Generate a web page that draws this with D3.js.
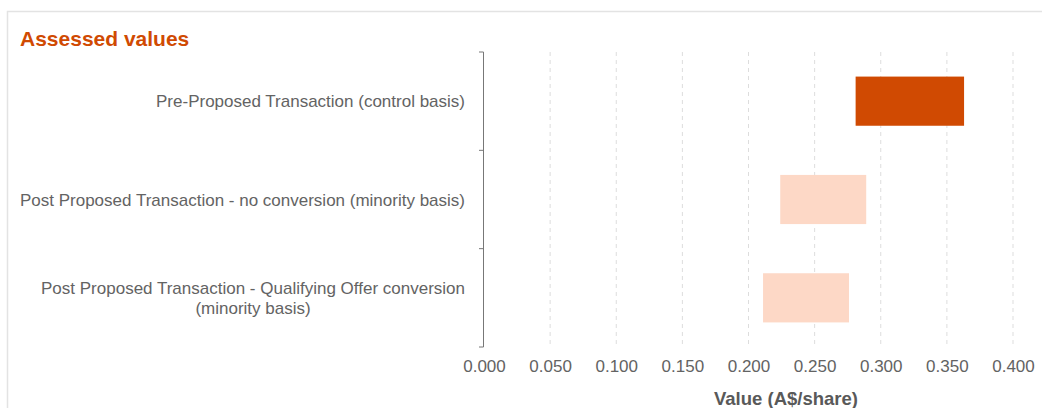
<!DOCTYPE html>
<html><head><meta charset="utf-8">
<script src="https://cdn.jsdelivr.net/npm/d3@7"></script>
<style>body{margin:0;background:#fff;} svg text{font-family:"Liberation Sans",Arial,sans-serif;}</style>
</head><body>
<svg id="c" width="1042" height="408"></svg>
<script>
const categories = [
  ["Pre-Proposed Transaction (control basis)"],
  ["Post Proposed Transaction - no conversion (minority basis)"],
  ["Post Proposed Transaction - Qualifying Offer conversion", "(minority basis)"]
];
const lowValues = [0.281, 0.224, 0.211];
const highValues = [0.363, 0.289, 0.276];
const barColors = ["#D04A02", "#FDD8C6", "#FDD8C6"];
const xTicks = [0, 0.05, 0.1, 0.15, 0.2, 0.25, 0.3, 0.35, 0.4];

const svg = d3.select("#c");
// frame
svg.append("rect").attr("x", 7.5).attr("y", 11.5).attr("width", 1100).attr("height", 500)
  .attr("fill", "none").attr("stroke", "#e3e3e3").attr("stroke-width", 1.5);
svg.append("text").attr("x", 20).attr("y", 46).text("Assessed values")
  .attr("fill", "#D04A02").attr("font-weight", "bold").attr("font-size", 21);

const pLeft = 484, pRight = 1013, pTop = 52, pBottom = 347;
const x = d3.scaleLinear().domain([0, 0.4]).range([pLeft, pRight]);
const y = d3.scaleBand().domain(d3.range(categories.length)).range([pTop, pBottom]).paddingInner(0.5).paddingOuter(0.25);

// grid
svg.append("g").selectAll("line").data(xTicks.slice(1)).join("line")
  .attr("x1", d => x(d)).attr("x2", d => x(d)).attr("y1", pTop).attr("y2", pBottom)
  .attr("stroke", "#dddddd").attr("stroke-dasharray", "4,4").attr("stroke-width", 1);

// bars
svg.append("g").selectAll("rect").data(categories).join("rect")
  .attr("x", (d, i) => x(lowValues[i]))
  .attr("width", (d, i) => x(highValues[i]) - x(lowValues[i]))
  .attr("y", (d, i) => y(i)).attr("height", y.bandwidth())
  .attr("fill", (d, i) => barColors[i]);

// y axis
const yAxisG = svg.append("g");
yAxisG.append("line").attr("x1", pLeft - 0.5).attr("x2", pLeft - 0.5).attr("y1", pTop).attr("y2", pBottom)
  .attr("stroke", "#777");
const bounds = d3.range(categories.length + 1).map(i => pTop + i * (pBottom - pTop) / categories.length);
yAxisG.selectAll("line.t").data(bounds).join("line").attr("class", "t")
  .attr("x1", pLeft - 5).attr("x2", pLeft - 0.5).attr("y1", d => d).attr("y2", d => d)
  .attr("stroke", "#777");
categories.forEach((lines, i) => {
  const cy = y(i) + y.bandwidth() / 2;
  const lh = 20;
  const startY = cy - (lines.length - 1) * lh / 2 + 6;
  const t0 = yAxisG.append("text").attr("x", pLeft - 19).attr("y", startY)
    .attr("text-anchor", "end").attr("font-size", 17).attr("fill", "#636363").text(lines[0]);
  const w = t0.node().getComputedTextLength();
  for (let k = 1; k < lines.length; k++) {
    yAxisG.append("text").attr("x", pLeft - 19 - w / 2).attr("y", startY + k * lh)
      .attr("text-anchor", "middle").attr("font-size", 17).attr("fill", "#636363").text(lines[k]);
  }
});

// x axis
const xAxis = d3.axisBottom(x).tickValues(xTicks).tickFormat(d3.format(".3f")).tickSize(0).tickPadding(13);
const xg = svg.append("g").attr("transform", `translate(0,${pBottom})`).call(xAxis);
xg.select(".domain").remove();
xg.selectAll("text").attr("font-size", 17).attr("fill", "#636363").attr("font-family", "'Liberation Sans', Arial, sans-serif");

svg.append("text").attr("x", 786).attr("y", 405).attr("text-anchor", "middle")
  .attr("font-size", 18.5).attr("font-weight", "bold").attr("fill", "#595959").text("Value (A$/share)");
</script>
</body></html>
